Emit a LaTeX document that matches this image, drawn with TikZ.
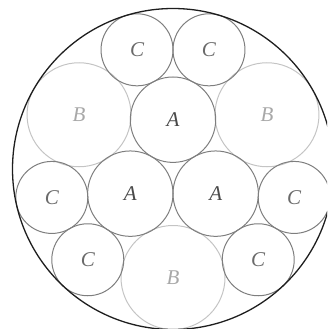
\documentclass[tikz,border=0pt]{standalone}
\usepackage{fontspec}
\setmainfont{Liberation Serif}
\definecolor{outerc}{HTML}{1E1E1E}
\definecolor{acstroke}{HTML}{7E7E7E}
\definecolor{bstroke}{HTML}{C4C4C4}
\definecolor{atext}{HTML}{4A4A4A}
\definecolor{ctext}{HTML}{6A6A6A}
\definecolor{btext}{HTML}{A8A8A8}
\begin{document}
\begin{tikzpicture}[x=1pt,y=1pt,
  ball/.style={circle,inner sep=0pt,line width=1pt,font=\fontsize{21}{25}\selectfont\itshape},
  ballA/.style={ball,draw=acstroke,text=atext,minimum size=85.4pt},
  ballB/.style={ball,draw=bstroke,text=btext,minimum size=104pt},
  ballC/.style={ball,draw=acstroke,text=ctext,minimum size=72pt}]
\useasboundingbox (0,0) rectangle (327,-329);
\clip (0,0) rectangle (327,-329);
\coordinate (O) at (173,-169);
\begin{scope}[shift={(O)}]
  \node[ballB] (B1) at (30:108.5) {B};
  \node[ballB] (B2) at (150:108.5) {B};
  \node[ballB] (B3) at (270:108.5) {B};
  \node[ballA] (A1) at (90:49.3) {A};
  \node[ballA] (A2) at (210:49.3) {A};
  \node[ballA] (A3) at (330:49.3) {A};
  \node[ballC] (C1) at (73.2:124.5) {C};
  \node[ballC] (C2) at (106.8:124.5) {C};
  \node[ballC] (C3) at (193.2:124.5) {C};
  \node[ballC] (C4) at (226.8:124.5) {C};
  \node[ballC] (C5) at (313.2:124.5) {C};
  \node[ballC] (C6) at (346.8:124.5) {C};
  \draw[outerc,line width=1.3pt] (0,0) circle[radius=160.5];
\end{scope}
\end{tikzpicture}
\end{document}
